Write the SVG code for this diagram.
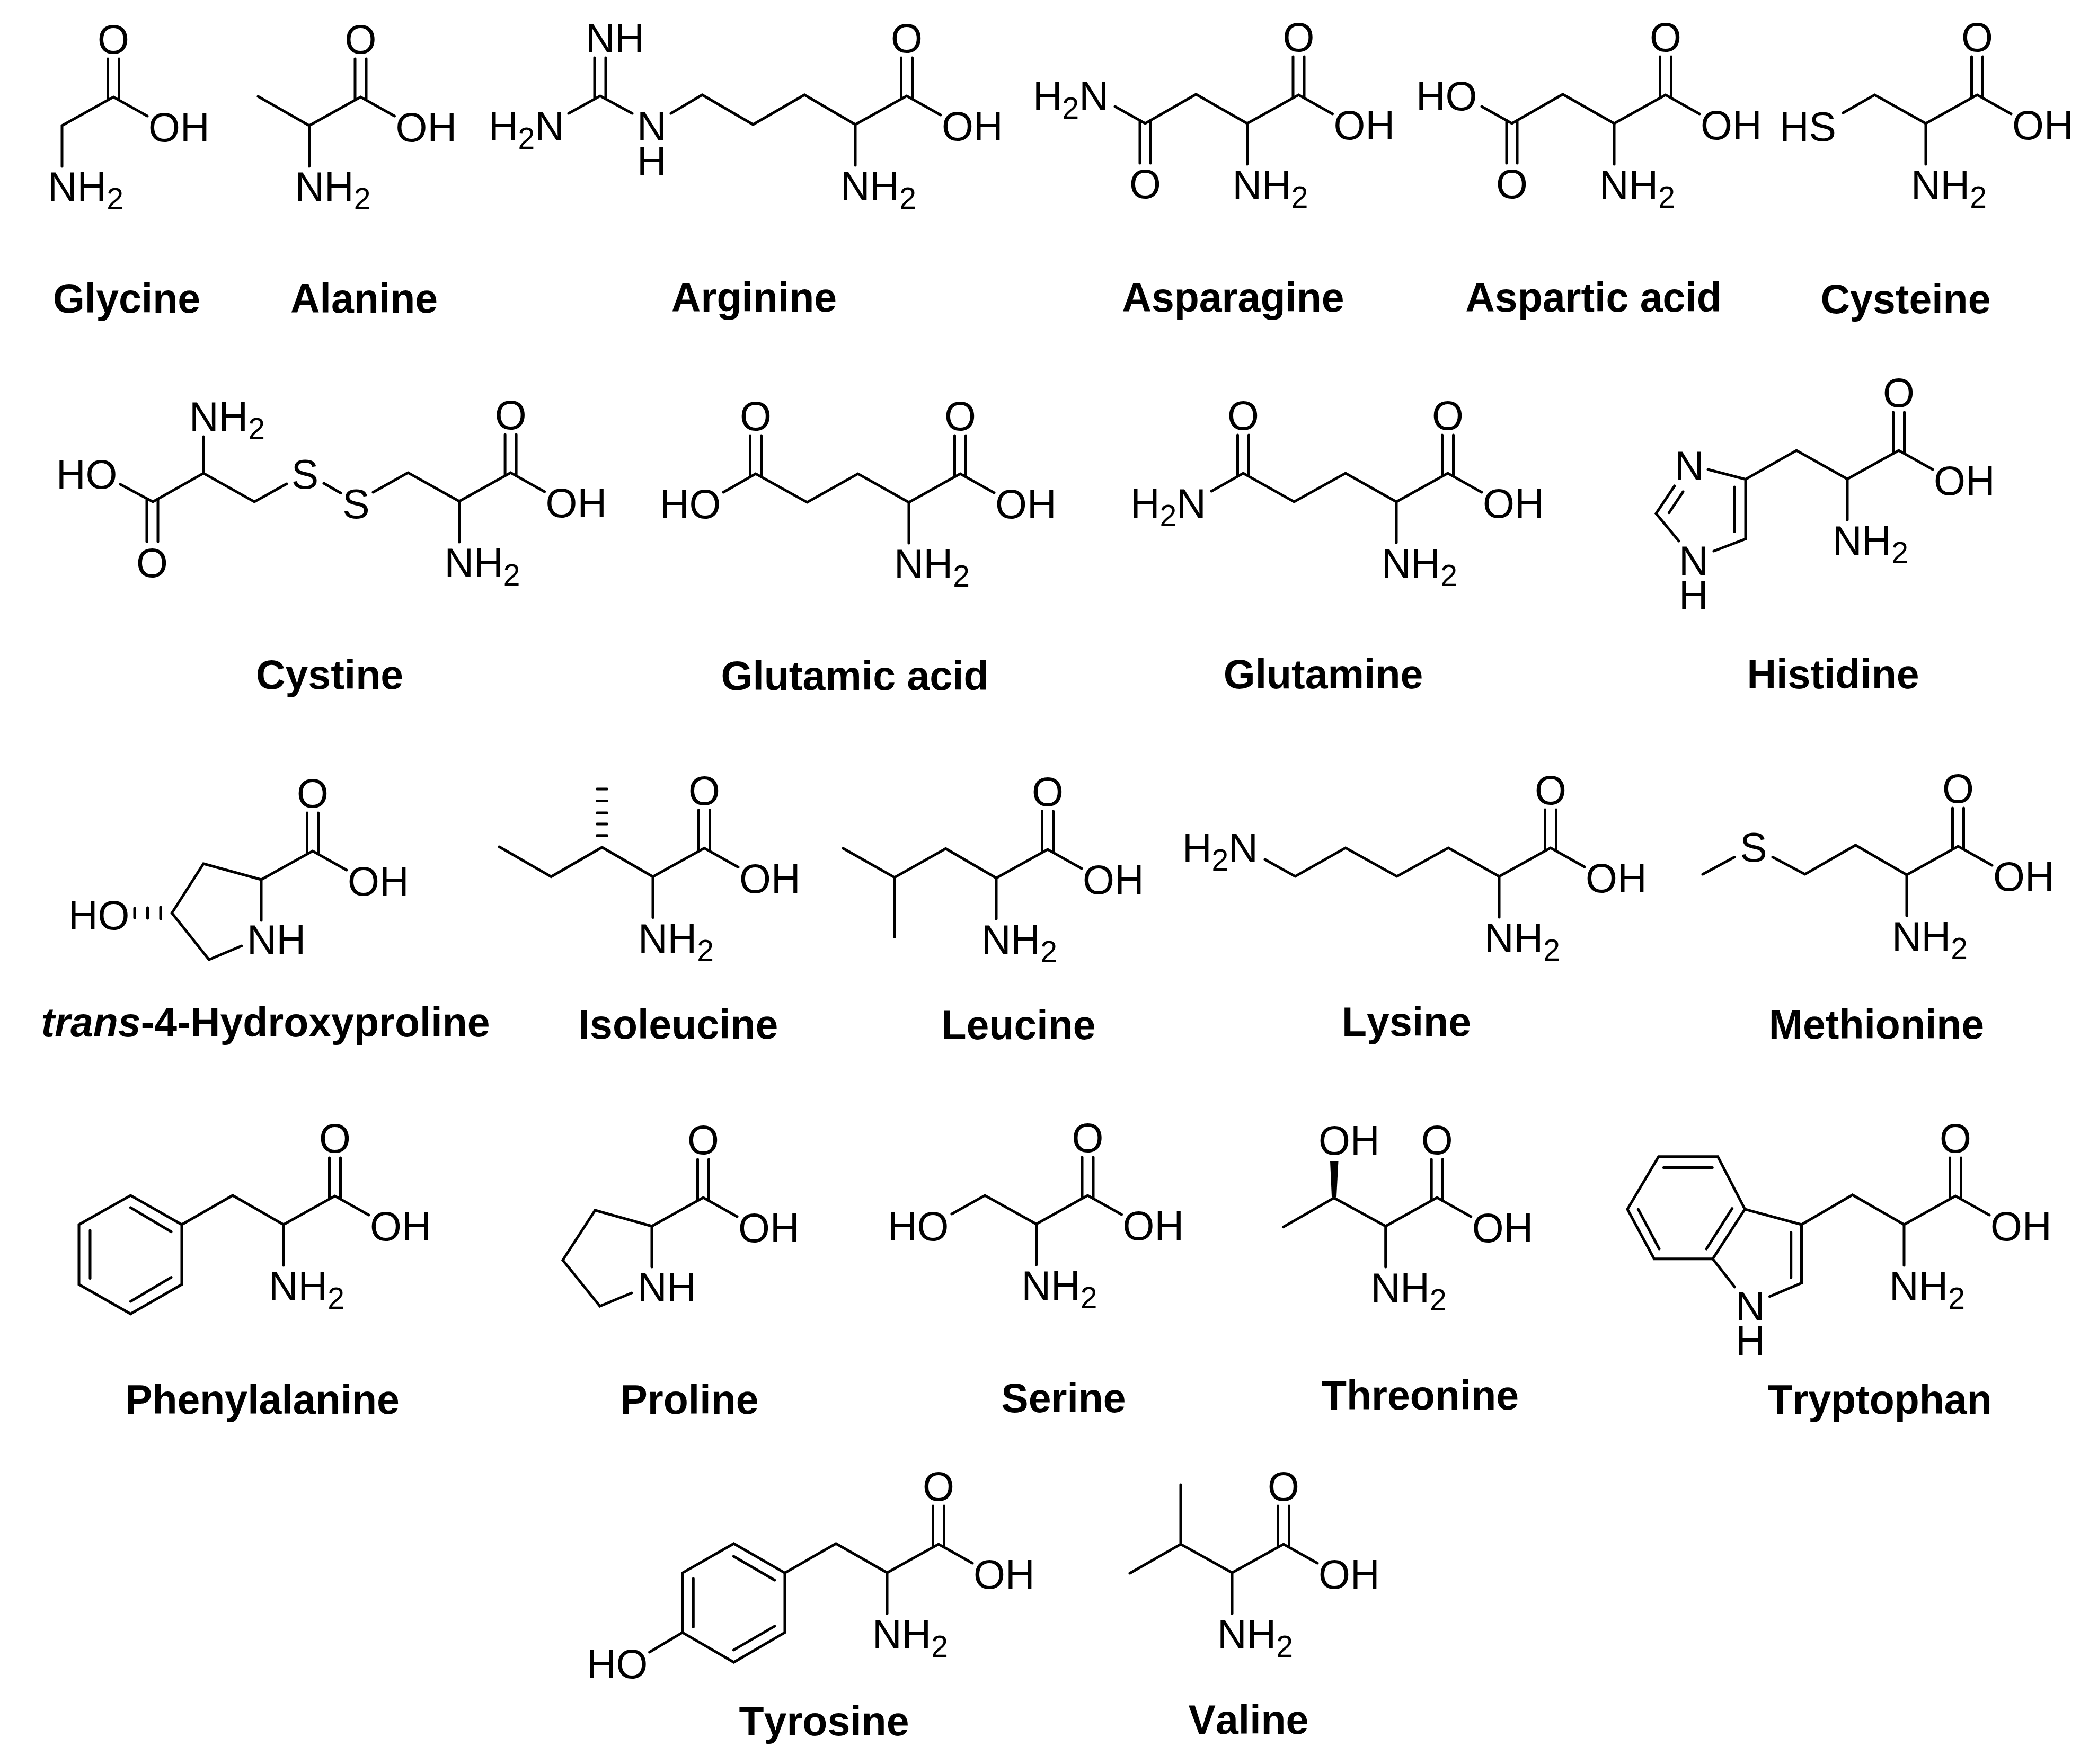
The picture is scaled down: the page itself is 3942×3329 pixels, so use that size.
<svg xmlns="http://www.w3.org/2000/svg" width="3942" height="3329" viewBox="0 0 3942 3329">
<style>
text{font-family:"Liberation Sans",Arial,sans-serif;fill:#000}
.a{font-size:77px}
.m{font-size:77px;text-anchor:middle}
.s{font-size:57px}
.l{font-size:77px;font-weight:700;text-anchor:middle;font-kerning:none}
.b{fill:none;stroke:#000;stroke-width:5;stroke-linecap:round;stroke-linejoin:miter;stroke-miterlimit:10}
.w{fill:#000;stroke:none}
</style>
<defs>
<path id="core" class="b" d="M0 77V0L97-54L161-18M86.500-126V-48M107.500-126V-48"/>
</defs>
<rect width="3942" height="3329" fill="#fff"/>

<g id="glycine">
<g transform="translate(117,237)"><use href="#core"/><text class="m" x="97" y="-136">O</text><text class="a" x="163" y="30">OH</text><text class="a" x="-27" y="142">NH<tspan class="s" dy="16">2</tspan></text></g>
<text class="l" x="239" y="590">Glycine</text>
</g>

<g id="alanine">
<path class="b" d="M487 182L583.500 237"/>
<g transform="translate(583.500,237)"><use href="#core"/><text class="m" x="97" y="-136">O</text><text class="a" x="163" y="30">OH</text><text class="a" x="-27" y="142">NH<tspan class="s" dy="16">2</tspan></text></g>
<text class="l" x="687" y="590">Alanine</text>
</g>

<g id="arginine">
<path class="b" d="M1073 214L1132.500 181L1193 214M1122 109V187M1143 109V187M1266 214L1325 179L1421 235L1518 179L1614 235"/>
<text class="a" x="1105" y="99">NH</text>
<text class="a" x="922" y="265">H<tspan class="s" dy="16">2</tspan><tspan dy="-16">N</tspan></text>
<text class="a" x="1202" y="265">N</text>
<text class="a" x="1202" y="331">H</text>
<g transform="translate(1614,235)"><use href="#core"/><text class="m" x="97" y="-136">O</text><text class="a" x="163" y="30">OH</text><text class="a" x="-28" y="143">NH<tspan class="s" dy="16">2</tspan></text></g>
<text class="l" x="1423" y="588">Arginine</text>
</g>

<g id="asparagine">
<path class="b" d="M2104 201L2161 233L2257 178L2353.500 233M2151 227V308M2171 227V308"/>
<text class="a" x="1949" y="208">H<tspan class="s" dy="16">2</tspan><tspan dy="-16">N</tspan></text>
<text class="m" x="2161" y="374">O</text>
<g transform="translate(2353.500,233)"><use href="#core"/><text class="m" x="97" y="-136">O</text><text class="a" x="163" y="30">OH</text><text class="a" x="-28" y="143">NH<tspan class="s" dy="16">2</tspan></text></g>
<text class="l" x="2327" y="588">Asparagine</text>
</g>

<g id="aspartic-acid">
<path class="b" d="M2796 201L2853 233L2949 178L3046 233M2843 227V308M2863 227V308"/>
<text class="a" x="2672" y="208">HO</text>
<text class="m" x="2853" y="374">O</text>
<g transform="translate(3046,233)"><use href="#core"/><text class="m" x="97" y="-136">O</text><text class="a" x="163" y="30">OH</text><text class="a" x="-28" y="143">NH<tspan class="s" dy="16">2</tspan></text></g>
<text class="l" x="3007" y="588">Aspartic acid</text>
</g>

<g id="cysteine">
<path class="b" d="M3478 213L3537.500 179L3634 233"/>
<text class="a" x="3358" y="266">HS</text>
<g transform="translate(3634,233)"><use href="#core"/><text class="m" x="97" y="-136">O</text><text class="a" x="163" y="30">OH</text><text class="a" x="-28" y="143">NH<tspan class="s" dy="16">2</tspan></text></g>
<text class="l" x="3596" y="591">Cysteine</text>
</g>

<g id="cystine">
<path class="b" d="M227 914L288.500 947L384 893L480 947L541 913M384 893V824M277 942V1022M298 942V1022M611 912L643 930.500M704 929L770 892L866.600 946"/>
<text class="a" x="357" y="813">NH<tspan class="s" dy="16">2</tspan></text>
<text class="a" x="106" y="922">HO</text>
<text class="m" x="287" y="1089">O</text>
<text class="m" x="575.500" y="922">S</text>
<text class="m" x="672" y="978">S</text>
<g transform="translate(866.600,946)"><use href="#core"/><text class="m" x="97" y="-136">O</text><text class="a" x="163" y="30">OH</text><text class="a" x="-28" y="143">NH<tspan class="s" dy="16">2</tspan></text></g>
<text class="l" x="622" y="1300">Cystine</text>
</g>

<g id="glutamic-acid">
<path class="b" d="M1365 929L1426 894L1523 948L1619 894L1715 948M1415.500 822V900M1436.500 822V900"/>
<text class="a" x="1245" y="978">HO</text>
<text class="m" x="1426" y="812">O</text>
<g transform="translate(1715,948)"><use href="#core"/><text class="m" x="97" y="-136">O</text><text class="a" x="163" y="30">OH</text><text class="a" x="-28" y="143">NH<tspan class="s" dy="16">2</tspan></text></g>
<text class="l" x="1613" y="1302">Glutamic acid</text>
</g>

<g id="glutamine">
<path class="b" d="M2286 927L2346 893L2442 947L2539 893L2635 947M2335.500 821V899M2356.500 821V899"/>
<text class="a" x="2133" y="977">H<tspan class="s" dy="16">2</tspan><tspan dy="-16">N</tspan></text>
<text class="m" x="2346" y="811">O</text>
<g transform="translate(2635,947)"><use href="#core"/><text class="m" x="97" y="-136">O</text><text class="a" x="163" y="30">OH</text><text class="a" x="-28" y="143">NH<tspan class="s" dy="16">2</tspan></text></g>
<text class="l" x="2497" y="1299">Glutamine</text>
</g>

<g id="histidine">
<path class="b" d="M3223 886L3294 904.500L3390 850L3486 904M3294 904.500V1017L3234 1040M3168 1021L3125 969L3160 917M3149.500 967.600L3176 928M3273 919V1003"/>
<text class="a" x="3160" y="906">N</text>
<text class="a" x="3168" y="1085">N</text>
<text class="a" x="3168" y="1150">H</text>
<g transform="translate(3486,904)"><use href="#core"/><text class="m" x="97" y="-136">O</text><text class="a" x="163" y="30">OH</text><text class="a" x="-28" y="143">NH<tspan class="s" dy="16">2</tspan></text></g>
<text class="l" x="3459" y="1299">Histidine</text>
</g>

<g id="hydroxyproline">
<path class="b" d="M456 1785L394.400 1811L324.400 1723L384 1630L493 1660M254 1714V1732M278.500 1713V1733M303 1712V1734"/>
<text class="a" x="129" y="1754">HO</text>
<g transform="translate(493,1660)"><use href="#core"/><text class="m" x="97" y="-136">O</text><text class="a" x="163" y="30">OH</text></g>
<text class="a" x="466" y="1800">NH</text>
<text class="l" x="501" y="1956"><tspan font-style="italic">trans</tspan>-4-Hydroxyproline</text>
</g>

<g id="isoleucine">
<path class="b" d="M942 1598L1040 1654.500L1136 1599L1232 1654.500M1126.500 1489H1145.500M1126.500 1511.600H1145.500M1126.500 1534H1145.500M1126.500 1555H1145.500M1126.500 1576.700H1145.500"/>
<g transform="translate(1232,1654.500)"><use href="#core"/><text class="m" x="97" y="-136">O</text><text class="a" x="163" y="30">OH</text><text class="a" x="-28" y="143">NH<tspan class="s" dy="16">2</tspan></text></g>
<text class="l" x="1280" y="1960">Isoleucine</text>
</g>

<g id="leucine">
<path class="b" d="M1591 1601L1688 1656L1784.600 1601.500L1880 1657M1688 1656V1768.600"/>
<g transform="translate(1880,1657)"><use href="#core"/><text class="m" x="97" y="-136">O</text><text class="a" x="163" y="30">OH</text><text class="a" x="-28" y="143">NH<tspan class="s" dy="16">2</tspan></text></g>
<text class="l" x="1922" y="1961">Leucine</text>
</g>

<g id="lysine">
<path class="b" d="M2387 1622L2444 1654L2539 1600L2636 1654L2733 1600L2829 1654"/>
<text class="a" x="2231" y="1627">H<tspan class="s" dy="16">2</tspan><tspan dy="-16">N</tspan></text>
<g transform="translate(2829,1654)"><use href="#core"/><text class="m" x="97" y="-136">O</text><text class="a" x="163" y="30">OH</text><text class="a" x="-28" y="143">NH<tspan class="s" dy="16">2</tspan></text></g>
<text class="l" x="2654" y="1955">Lysine</text>
</g>

<g id="methionine">
<path class="b" d="M3213 1650L3273 1617.500M3345 1617.500L3406 1650L3501.500 1595L3598 1651"/>
<text class="m" x="3309" y="1626">S</text>
<g transform="translate(3598,1651)"><use href="#core"/><text class="m" x="97" y="-136">O</text><text class="a" x="163" y="30">OH</text><text class="a" x="-28" y="143">NH<tspan class="s" dy="16">2</tspan></text></g>
<text class="l" x="3541" y="1960">Methionine</text>
</g>

<g id="phenylalanine">
<path class="b" d="M535 2311L439 2256L343 2311L246.400 2256L149 2311V2424L246.400 2479.500L343 2424V2311M246.400 2279L323 2324.500M170 2322V2412.500M246.400 2456L323 2410.700"/>
<g transform="translate(535,2311)"><use href="#core"/><text class="m" x="97" y="-136">O</text><text class="a" x="163" y="30">OH</text><text class="a" x="-28" y="143">NH<tspan class="s" dy="16">2</tspan></text></g>
<text class="l" x="495" y="2668">Phenylalanine</text>
</g>

<g id="proline">
<path class="b" d="M1192 2440L1132 2465L1062 2378L1123 2284L1230 2314"/>
<g transform="translate(1230,2314)"><use href="#core"/><text class="m" x="97" y="-136">O</text><text class="a" x="163" y="30">OH</text></g>
<text class="a" x="1203" y="2456">NH</text>
<text class="l" x="1301" y="2668">Proline</text>
</g>

<g id="serine">
<path class="b" d="M1796 2291L1858.500 2256L1955.500 2310"/>
<text class="a" x="1675" y="2341">HO</text>
<g transform="translate(1955.500,2310)"><use href="#core"/><text class="m" x="97" y="-136">O</text><text class="a" x="163" y="30">OH</text><text class="a" x="-28" y="143">NH<tspan class="s" dy="16">2</tspan></text></g>
<text class="l" x="2007" y="2665">Serine</text>
</g>

<g id="threonine">
<path class="b" d="M2421.400 2315.600L2517.400 2260.700L2614.700 2314"/>
<polygon class="w" points="2510,2191 2525.500,2191 2522,2258 2517.500,2263 2513,2258"/>
<text class="a" x="2488" y="2179">OH</text>
<g transform="translate(2614.700,2314)"><use href="#core"/><text class="m" x="97" y="-136">O</text><text class="a" x="163" y="30">OH</text><text class="a" x="-28" y="143">NH<tspan class="s" dy="16">2</tspan></text></g>
<text class="l" x="2680" y="2660">Threonine</text>
</g>

<g id="tryptophan">
<path class="b" d="M3593 2311L3495.600 2255L3399.500 2311L3292.600 2282L3241.500 2182.700H3129.800L3071 2282L3121.400 2375.700H3232L3292.600 2282M3232 2375.700L3273.400 2428.800M3399.500 2311V2421.400L3339.400 2446.700M3139.400 2203.500H3231.300M3091.300 2282L3131 2357M3268.600 2280.600L3220 2357M3379.700 2325.500V2411"/>
<text class="a" x="3275" y="2492">N</text>
<text class="a" x="3275" y="2557">H</text>
<g transform="translate(3593,2311)"><use href="#core"/><text class="m" x="97" y="-136">O</text><text class="a" x="163" y="30">OH</text><text class="a" x="-28" y="143">NH<tspan class="s" dy="16">2</tspan></text></g>
<text class="l" x="3547" y="2668">Tryptophan</text>
</g>

<g id="tyrosine">
<path class="b" d="M1674 2968L1577.500 2913L1481 2968.400L1384.700 2913L1287.800 2968.400V3080.900L1384.700 3137L1481 3080.900V2968.400M1287.800 3080.900L1225.600 3117.800M1384.300 2937L1461.800 2982M1308.300 2979V3070.400M1384.300 3113.800L1461.800 3068.800"/>
<text class="a" x="1107" y="3167">HO</text>
<g transform="translate(1674,2968)"><use href="#core"/><text class="m" x="97" y="-136">O</text><text class="a" x="163" y="30">OH</text><text class="a" x="-28" y="143">NH<tspan class="s" dy="16">2</tspan></text></g>
<text class="l" x="1555" y="3275">Tyrosine</text>
</g>

<g id="valine">
<path class="b" d="M2132 2969L2228 2914L2325 2968M2228 2914V2802"/>
<g transform="translate(2325,2968)"><use href="#core"/><text class="m" x="97" y="-136">O</text><text class="a" x="163" y="30">OH</text><text class="a" x="-28" y="143">NH<tspan class="s" dy="16">2</tspan></text></g>
<text class="l" x="2356" y="3272">Valine</text>
</g>
</svg>
